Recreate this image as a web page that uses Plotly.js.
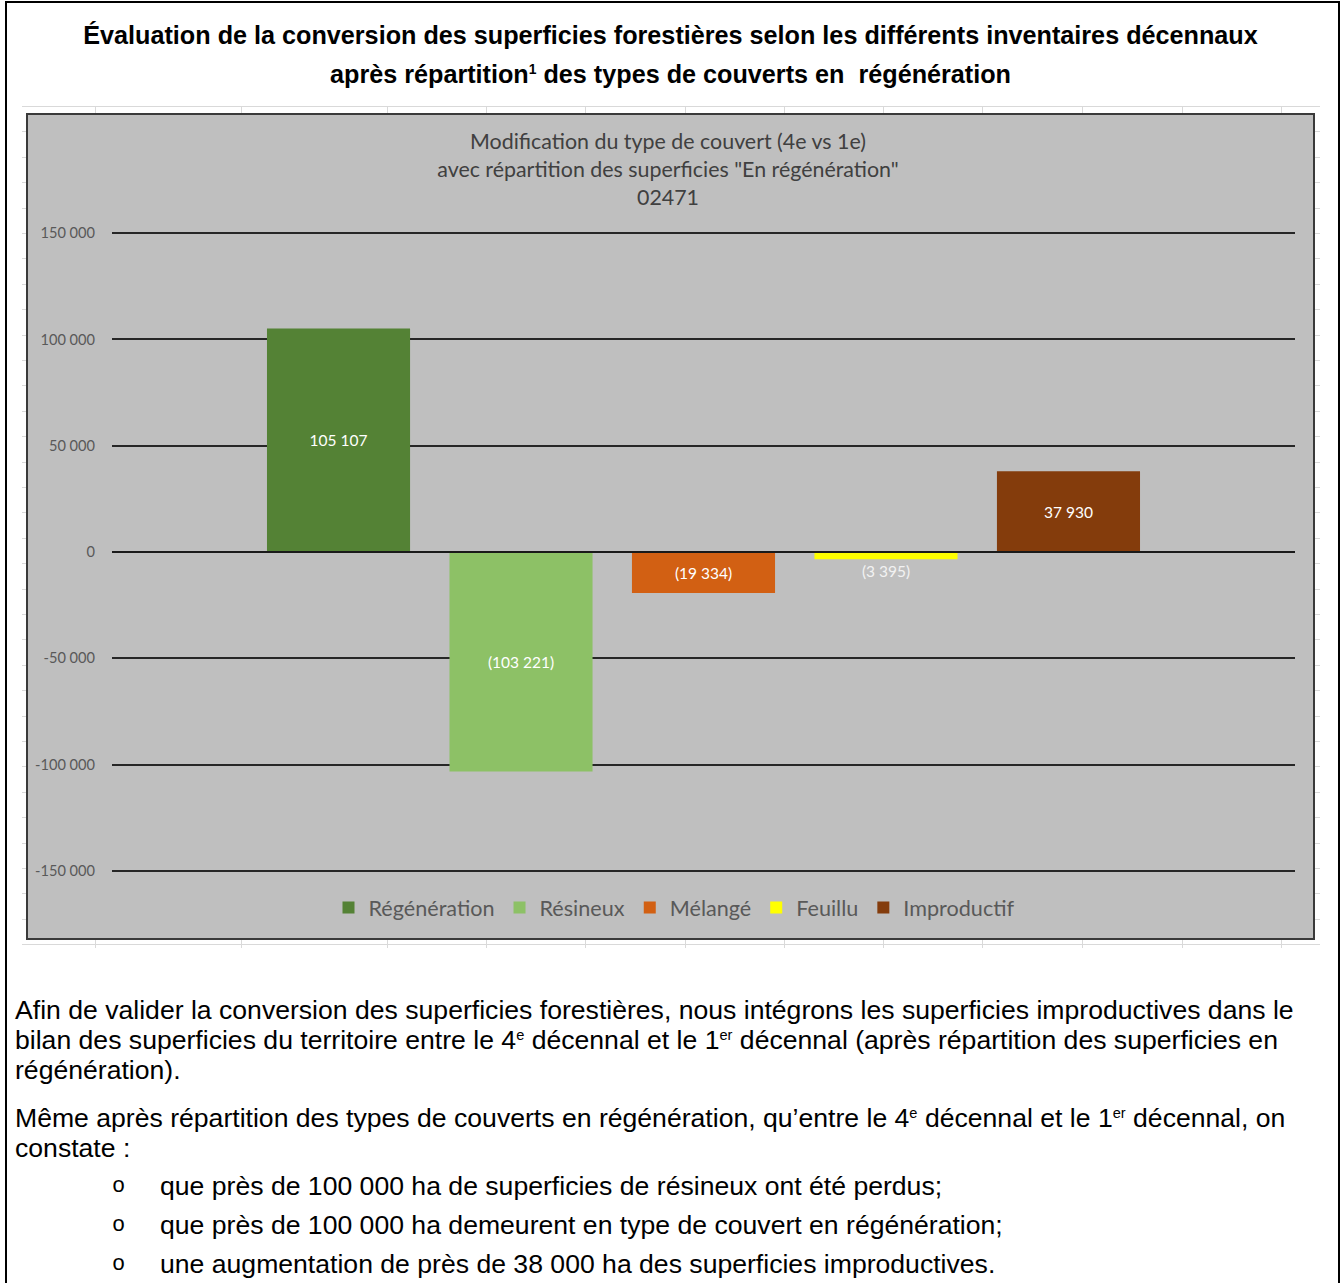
<!DOCTYPE html>
<html>
<head>
<meta charset="utf-8">
<script src="https://cdn.plot.ly/plotly-3.0.1.min.js"></script>
<style>
  html, body { margin:0; padding:0; background:#fff; }
  body { width:1341px; height:1283px; position:relative; overflow:hidden; font-family:"Liberation Sans", Arial, sans-serif; color:#000; }
  #frame { position:absolute; left:5px; top:1px; width:1331px; height:1300px; border-left:2px solid #000; border-right:2px solid #000; border-top:2px solid #000; }
  .doctitle { position:absolute; left:0; width:1341px; text-align:center; font-weight:bold; font-size:25.2px; line-height:39px; white-space:nowrap; }
  .para { position:absolute; left:15px; font-size:26.6px; line-height:30px; white-space:nowrap; }
  .bul { position:absolute; left:0; width:1341px; font-size:26.6px; line-height:39px; height:39px; white-space:nowrap; }
  .bul span.o { position:absolute; left:112px; font-family:"Liberation Mono", monospace; font-size:22px; }
  .bul span.t { position:absolute; left:160px; }
  sup { font-size:55%; line-height:0; vertical-align:0.65em; }
  #sheet { position:absolute; left:22px; top:106px; width:1298px; height:842px;
    background-image: repeating-linear-gradient(to bottom, #d9d9d9 0px, #d9d9d9 1px, transparent 1px, transparent 25.4px); }
  .col { position:absolute; top:106px; width:1px; height:842px; background:#d9d9d9; }
  #chartbox { position:absolute; left:26px; top:113px; width:1285px; height:823px; border:2px solid #3a3a3a; background:#bfbfbf; }
  #chart { width:1285px; height:823px; }
</style>
</head>
<body>
<div id="frame"></div>
<div class="doctitle" style="top:16px;">Évaluation de la conversion des superficies forestières selon les différents inventaires décennaux</div>
<div class="doctitle" style="top:55px;">après répartition<sup>1</sup> des types de couverts en &nbsp;régénération</div>

<div id="sheet"></div>
<div id="cols"></div>
<div id="chartbox"><div id="chart"></div></div>

<div class="para" style="top:995px;">Afin de valider la conversion des superficies forestières, nous intégrons les superficies improductives dans le<br>bilan des superficies du territoire entre le 4<sup>e</sup> décennal et le 1<sup>er</sup> décennal (après répartition des superficies en<br>régénération).</div>
<div class="para" style="top:1103px;">Même après répartition des types de couverts en régénération, qu’entre le 4<sup>e</sup> décennal et le 1<sup>er</sup> décennal, on<br>constate :</div>
<div class="bul" style="top:1167px;"><span class="o">o</span><span class="t">que près de 100 000 ha de superficies de résineux ont été perdus;</span></div>
<div class="bul" style="top:1206px;"><span class="o">o</span><span class="t">que près de 100 000 ha demeurent en type de couvert en régénération;</span></div>
<div class="bul" style="top:1245px;"><span class="o">o</span><span class="t">une augmentation de près de 38 000 ha des superficies improductives.</span></div>

<script>
// Decorative spreadsheet column lines behind the chart
var sheetCols = [95, 241, 387, 486, 585, 685, 784, 883, 982, 1082, 1182, 1281];
var colsDiv = document.getElementById('cols');
sheetCols.forEach(function (x) {
  var d = document.createElement('div'); d.className = 'col'; d.style.left = x + 'px'; colsDiv.appendChild(d);
});

// ---- Data ----
var category = ['02471'];
var seriesNames = ['Régénération', 'Résineux', 'Mélangé', 'Feuillu', 'Improductif'];
var seriesValues = [105107, -103221, -19334, -3395, 37930];
var seriesColors = ['#548235', '#8dc166', '#d26013', '#ffff00', '#843c0c'];
var yTickVals = [-150000, -100000, -50000, 0, 50000, 100000, 150000];

function fmtThousands(v) {
  var s = String(Math.abs(v));
  return s.replace(/\B(?=(\d{3})+(?!\d))/g, ' ');
}
function fmtLabel(v) { return v < 0 ? '(' + fmtThousands(v) + ')' : fmtThousands(v); }
function fmtTick(v) { return (v < 0 ? '-' : '') + fmtThousands(v); }

var fontFam = 'Lato, "Open Sans", sans-serif';
var traces = seriesNames.map(function (name, i) {
  var v = seriesValues[i];
  var small = Math.abs(v) < 10000;
  return {
    type: 'bar', name: name, x: category, y: [v],
    marker: { color: seriesColors[i], line: { width: 0 } },
    text: [fmtLabel(v)],
    textposition: small ? 'outside' : 'inside',
    insidetextanchor: 'middle',
    constraintext: 'none',
    cliponaxis: false,
    textfont: { family: fontFam, size: 15.5, color: small ? '#f2f2f2' : '#ffffff' },
    hoverinfo: 'name+y'
  };
});

var layout = {
  width: 1285, height: 823,
  paper_bgcolor: '#bfbfbf', plot_bgcolor: '#bfbfbf',
  margin: { l: 84, r: 18, t: 117, b: 66 },
  barmode: 'group', bargap: 0.2287, bargroupgap: 0.216,
  title: {
    text: 'Modification du type de couvert (4e vs 1e)<br>avec répartition des superficies "En régénération"<br>02471',
    font: { family: fontFam, size: 21.4, color: '#404040' },
    x: (668 - 28) / 1285, xanchor: 'center', xref: 'container',
    y: 1 - 34 / 823, yanchor: 'middle', yref: 'container'
  },
  xaxis: { showticklabels: false, showgrid: false, zeroline: false, showline: false, ticks: '', fixedrange: true },
  yaxis: {
    range: [-150500, 150500], tickvals: yTickVals, ticktext: yTickVals.map(fmtTick),
    showgrid: true, gridcolor: '#262626', gridwidth: 2,
    zeroline: true, zerolinecolor: '#1a1a1a', zerolinewidth: 2, zerolinelayer: 'above traces',
    showline: false, ticks: '', ticklabelstandoff: 16,
    tickfont: { family: fontFam, size: 14.6, color: '#595959' }, fixedrange: true
  },
  showlegend: true,
  legend: {
    orientation: 'h', x: (674 - 28) / 1285, xanchor: 'center', xref: 'container', yref: 'container',
    yanchor: 'middle', font: { family: fontFam, size: 21.6, color: '#595959' },
    bgcolor: 'rgba(0,0,0,0)', traceorder: 'normal', itemclick: false, itemdoubleclick: false
  }
};
layout.legend.y = 1 - 793 / 823;

Plotly.newPlot('chart', traces, layout, { displayModeBar: false, staticPlot: true });
</script>
</body>
</html>
